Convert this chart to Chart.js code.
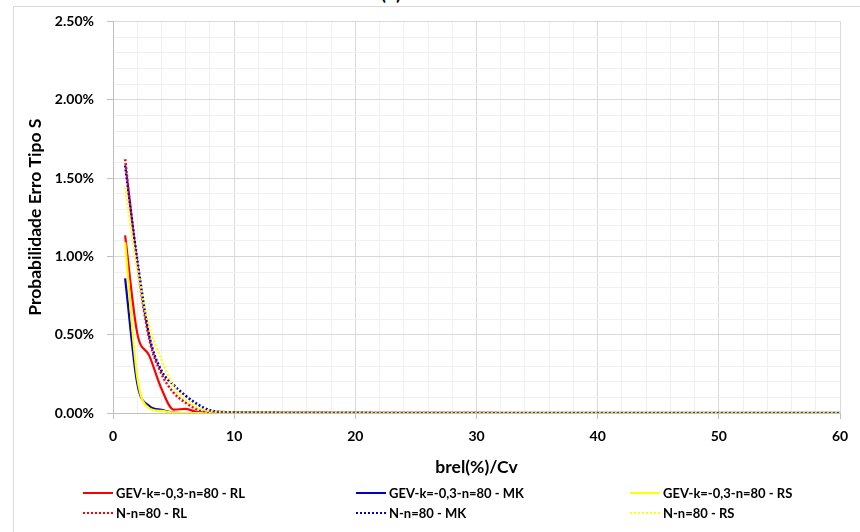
<!DOCTYPE html>
<html>
<head>
<meta charset="utf-8">
<script src="https://cdn.jsdelivr.net/npm/chart.js@4.4.0/dist/chart.umd.min.js"></script>
<style>
    html, body { margin: 0; padding: 0; background: #fff; overflow: hidden; }
    #wrap { position: relative; width: 860px; height: 532px; overflow: hidden; font-family: Lato, sans-serif; }
    #frame { position: absolute; left: 13px; top: 6px; width: 900px; height: 600px; border: 1px solid #d9d9d9; }
    #topTitle { position: absolute; left: 370px; width: 42px; top: -19px; text-align: center; font-weight: bold; font-size: 19px; color: #000; }
    #chartCanvas { position: absolute; left: 0; top: 0; }
    .lg { position: absolute; display: flex; align-items: center; font-size: 13px; font-weight: bold; color: #000; white-space: nowrap; }
    .lg span.sample { display: inline-block; width: 30px; height: 0; margin-right: 3px; }
</style>
</head>
<body>
<div id="wrap">
    <div id="frame"></div>
    <div id="topTitle">(b)</div>
    <canvas id="chartCanvas" width="860" height="532"></canvas>
    <div id="legend"></div>
</div>
<script>
// x values (brel(%)/Cv) and probability of type S error in %
const xValues = [1, 2, 3, 4, 5, 6, 7, 8, 9, 10, 12, 15, 20, 30, 40, 50, 60];

const gevRL = [1.134, 0.51, 0.365, 0.155, 0.022, 0.026, 0.005, 0.002, 0.001, 0, 0, 0, 0, 0, 0, 0, 0];
const gevMK = [0.86, 0.19, 0.045, 0.02, 0.003, 0, 0, 0, 0, 0, 0, 0, 0, 0, 0, 0, 0];
const gevRS = [1.09, 0.23, 0.03, 0.013, 0.003, 0, 0, 0, 0, 0, 0, 0, 0, 0, 0, 0, 0];
const nRL = [1.62, 0.95, 0.47, 0.25, 0.13, 0.065, 0.022, 0.008, 0.006, 0.005, 0.004, 0.003, 0.002, 0.001, 0, 0, 0];
const nMK = [1.58, 0.98, 0.49, 0.27, 0.18, 0.11, 0.055, 0.018, 0.006, 0.004, 0.003, 0.002, 0.001, 0, 0, 0, 0];
const nRS = [1.44, 0.92, 0.55, 0.34, 0.17, 0.085, 0.035, 0.012, 0.006, 0.004, 0.003, 0.002, 0.001, 0, 0, 0, 0];

const seriesNames = ['GEV-k=-0,3-n=80 - RL', 'GEV-k=-0,3-n=80 - MK', 'GEV-k=-0,3-n=80 - RS',
                     'N-n=80 - RL', 'N-n=80 - MK', 'N-n=80 - RS'];
const seriesValues = [gevRL, gevMK, gevRS, nRL, nMK, nRS];
const seriesColors = ['#ff0000', '#0000c8', '#ffff00', '#ff0000', '#0000c8', '#ffff00'];
const seriesDotted = [false, false, false, true, true, true];

const yTicks = [0, 0.5, 1, 1.5, 2, 2.5];
const xTicks = [0, 10, 20, 30, 40, 50, 60];

window.onload = function() {
    const datasets = seriesNames.map((name, i) => ({
        label: name,
        data: xValues.map((x, j) => ({ x: x, y: seriesValues[i][j] })),
        borderColor: seriesColors[i],
        backgroundColor: seriesColors[i],
        borderWidth: seriesDotted[i] ? 2.5 : 2.2,
        borderDash: seriesDotted[i] ? [2, 2] : [],
        pointRadius: 0,
        cubicInterpolationMode: 'monotone',
        fill: false,
        order: seriesNames.length - i
    }));

    const isMajor = (v, step) => Math.abs(v / step - Math.round(v / step)) < 1e-6;
    const tickFont = { family: 'Lato, sans-serif', size: 14, weight: 'bold' };
    const titleFont = { family: 'Lato, sans-serif', size: 17.5, weight: 'bold' };

    const ctx = document.getElementById('chartCanvas').getContext('2d');
    const chart = new Chart(ctx, {
        type: 'line',
        data: { datasets: datasets },
        options: {
            responsive: false,
            animation: false,
            layout: { padding: { left: 25, right: 20, top: 20, bottom: 54 } },
            plugins: { legend: { display: false }, tooltip: { enabled: false } },
            scales: {
                x: {
                    type: 'linear',
                    min: xTicks[0],
                    max: xTicks[xTicks.length - 1],
                    afterFit: scale => { scale.height = 65; },
                    ticks: {
                        stepSize: 2,
                        autoSkip: false,
                        maxRotation: 0,
                        padding: 9,
                        color: '#000',
                        font: tickFont,
                        callback: v => xTicks.includes(v) ? String(v) : ''
                    },
                    grid: {
                        color: c => isMajor(c.tick.value, 10) ? '#d9d9d9' : '#f0f0f0',
                        tickColor: c => isMajor(c.tick.value, 10) ? '#bfbfbf' : 'rgba(0,0,0,0)',
                        tickLength: 6
                    },
                    border: { color: '#bfbfbf' },
                    title: { display: true, text: 'brel(%)/Cv', color: '#000', font: titleFont, padding: 0 }
                },
                y: {
                    min: yTicks[0],
                    max: yTicks[yTicks.length - 1],
                    afterFit: scale => { scale.width = 88; },
                    ticks: {
                        stepSize: 0.1,
                        autoSkip: false,
                        padding: 13,
                        color: '#000',
                        font: tickFont,
                        callback: v => isMajor(v, 0.5) ? v.toFixed(2) + '%' : ''
                    },
                    grid: {
                        color: c => isMajor(c.tick.value, 0.5) ? '#d9d9d9' : '#f0f0f0',
                        tickColor: c => isMajor(c.tick.value, 0.5) ? '#bfbfbf' : 'rgba(0,0,0,0)',
                        tickLength: 6
                    },
                    border: { color: '#bfbfbf' },
                    title: { display: true, text: 'Probabilidade Erro Tipo S', color: '#000', font: titleFont, padding: 0 }
                }
            }
        }
    });

    // legend laid out in three columns, like the original
    const legendEl = document.getElementById('legend');
    const colX = [83, 356, 630];
    const rowY = [493, 513];
    chart.data.datasets.forEach((ds, i) => {
        const item = document.createElement('div');
        item.className = 'lg';
        item.style.left = colX[i % 3] + 'px';
        item.style.top = (rowY[Math.floor(i / 3)] - 8) + 'px';
        item.style.height = '16px';
        const sample = document.createElement('span');
        sample.className = 'sample';
        sample.style.borderTop = '2px ' + (seriesDotted[i] ? 'dotted ' : 'solid ') + ds.borderColor;
        item.appendChild(sample);
        const txt = document.createElement('span');
        txt.textContent = ds.label;
        item.appendChild(txt);
        legendEl.appendChild(item);
    });
};
</script>
</body>
</html>
